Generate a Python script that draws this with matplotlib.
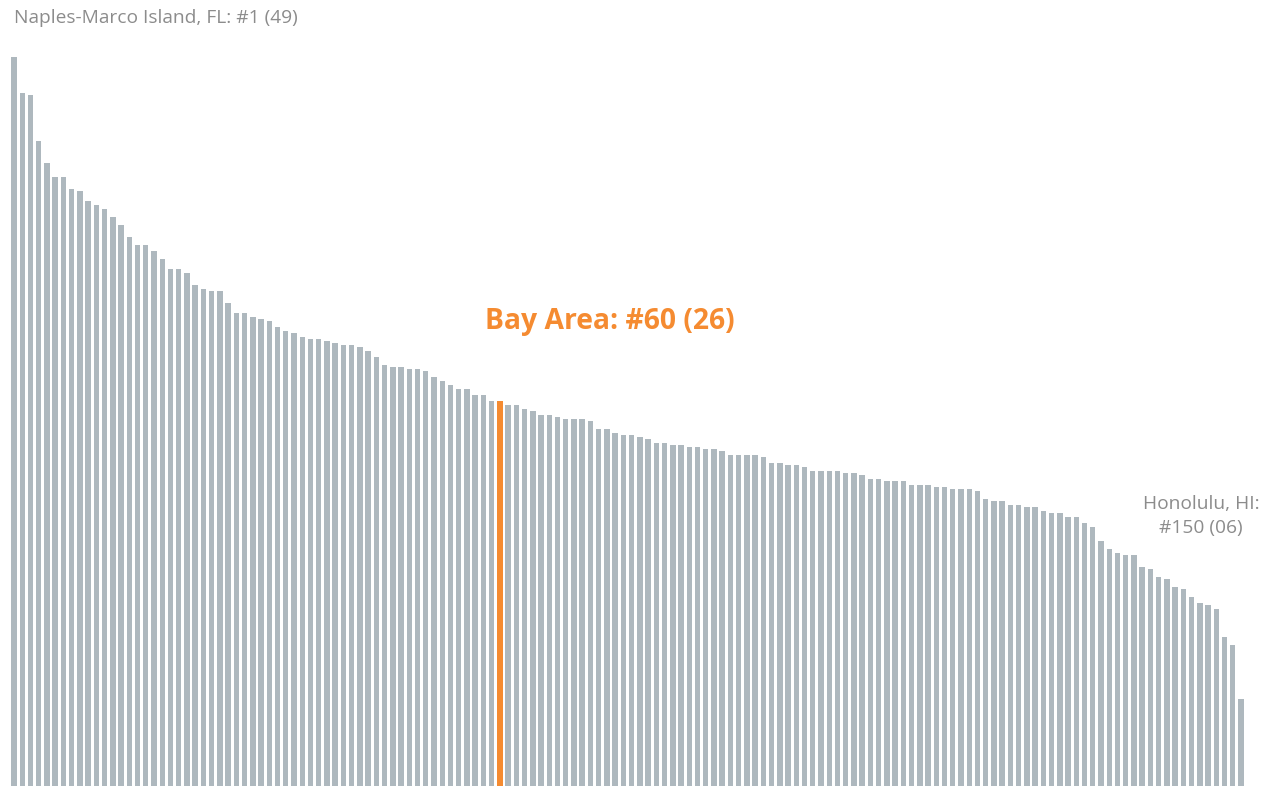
import matplotlib
matplotlib.use("Agg")
import matplotlib.pyplot as plt
import numpy as np

ranks = list(range(1, 151))
values = [
    49.01, 46.59, 46.46, 43.37, 41.89, 40.95, 40.95, 40.14, 40.01, 39.33,
    39.07, 38.80, 38.26, 37.72, 36.92, 36.38, 36.38, 35.97, 35.44, 34.77,
    34.77, 34.50, 33.69, 33.42, 33.29, 33.29, 32.48, 31.81, 31.81, 31.54,
    31.40, 31.27, 30.87, 30.60, 30.46, 30.19, 30.06, 30.06, 29.93, 29.79,
    29.66, 29.66, 29.52, 29.25, 28.85, 28.31, 28.18, 28.18, 28.04, 28.04,
    27.91, 27.51, 27.24, 26.97, 26.70, 26.70, 26.30, 26.30, 25.89, 25.89,
    25.62, 25.62, 25.36, 25.22, 24.95, 24.95, 24.82, 24.68, 24.68, 24.68,
    24.55, 24.01, 24.01, 23.74, 23.61, 23.61, 23.47, 23.34, 23.07, 23.07,
    22.94, 22.94, 22.80, 22.80, 22.67, 22.67, 22.53, 22.26, 22.26, 22.26,
    22.26, 22.13, 21.73, 21.73, 21.59, 21.59, 21.46, 21.19, 21.19, 21.19,
    21.19, 21.06, 21.06, 20.92, 20.65, 20.65, 20.52, 20.52, 20.52, 20.25,
    20.25, 20.25, 20.11, 20.11, 19.98, 19.98, 19.98, 19.85, 19.31, 19.17,
    19.17, 18.90, 18.90, 18.77, 18.77, 18.50, 18.37, 18.37, 18.10, 18.10,
    17.69, 17.43, 16.49, 15.95, 15.68, 15.54, 15.54, 14.74, 14.60, 14.07,
    13.93, 13.39, 13.26, 12.72, 12.32, 12.18, 11.92, 10.03, 9.50, 5.87,
]
highlight_rank = 60
label_top = "Naples-Marco Island, FL: #1 (49)"
label_mid = "Bay Area: #60 (26)"
label_end = "Honolulu, HI:\n#150 (06)"

GRAY = "#aeb8be"
ORANGE = "#f58b31"
TEXT_GRAY = "#8c8c8c"

fig = plt.figure(figsize=(12.85, 7.86), dpi=100)
ax = fig.add_axes([9.9 / 1285, 0, (1245.1 - 9.9) / 1285, 1])
colors = [ORANGE if r == highlight_rank else GRAY for r in ranks]
ax.bar(ranks, values, width=0.66, color=colors, linewidth=0)
ax.set_xlim(0.5, 150.5)
ax.set_ylim(0, 786 / 14.88)
ax.axis("off")

fig.text(14 / 1285, 1 - 18 / 786, label_top, family="Open Sans", fontsize=13.8,
         color=TEXT_GRAY, ha="left", va="center")
fig.text(485 / 1285, 1 - 321 / 786, label_mid, family="Open Sans", fontsize=20.3,
         fontweight="bold", color=ORANGE, ha="left", va="center")
fig.text(1201 / 1285, 1 - 516 / 786, label_end, family="Open Sans", fontsize=13.8,
         color=TEXT_GRAY, ha="center", va="center", multialignment="center",
         linespacing=1.45)

fig.savefig("out.png", dpi=100)
